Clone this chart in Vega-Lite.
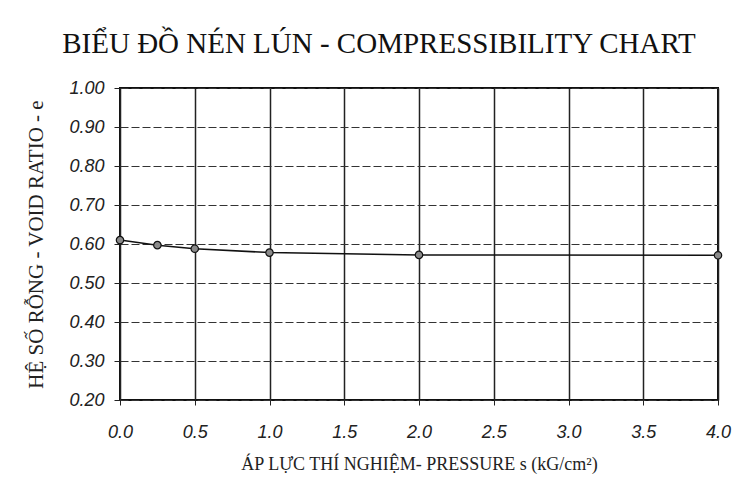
{
  "$schema": "https://vega.github.io/schema/vega-lite/v6.json",
  "autosize": {"type": "none"},
  "width": 598,
  "height": 312,
  "padding": {"left": 120, "top": 88, "right": 29, "bottom": 84},
  "background": "white",
  "title": {
    "text": "BIỂU ĐỒ NÉN LÚN - COMPRESSIBILITY CHART",
    "font": "Liberation Serif",
    "fontSize": 29,
    "fontWeight": "normal",
    "color": "#111",
    "anchor": "middle",
    "dx": -40,
    "offset": 20
  },
  "data": {
    "values": [
      {"pressure": 0.0, "e": 0.610},
      {"pressure": 0.25, "e": 0.597},
      {"pressure": 0.5, "e": 0.588},
      {"pressure": 1.0, "e": 0.578},
      {"pressure": 2.0, "e": 0.572},
      {"pressure": 4.0, "e": 0.571}
    ]
  },
  "config": {
    "view": {"stroke": "#111", "strokeWidth": 2}
  },
  "encoding": {
    "x": {
      "field": "pressure",
      "type": "quantitative",
      "scale": {"domain": [0, 4], "nice": false, "zero": false},
      "axis": {
        "title": "ÁP LỰC THÍ NGHIỆM- PRESSURE s (kG/cm²)",
        "titleFont": "Liberation Serif",
        "titleFontSize": 18,
        "titleFontWeight": "normal",
        "titleColor": "#222",
        "titlePadding": 14,
        "values": [0, 0.5, 1, 1.5, 2, 2.5, 3, 3.5, 4],
        "format": ".1f",
        "labelFont": "Liberation Sans",
        "labelFontStyle": "italic",
        "labelFontSize": 18,
        "labelColor": "#222",
        "labelPadding": 18,
        "labelFlush": false,
        "domain": false,
        "tickColor": "#222",
        "tickSize": 5,
        "grid": true,
        "gridColor": "#222",
        "gridWidth": 1.5
      }
    },
    "y": {
      "field": "e",
      "type": "quantitative",
      "scale": {"domain": [0.2, 1.0], "nice": false, "zero": false},
      "axis": {
        "title": "HỆ SỐ RỖNG - VOID RATIO - e",
        "titleFont": "Liberation Serif",
        "titleFontSize": 21,
        "titleFontWeight": "normal",
        "titleColor": "#222",
        "titlePadding": 22,
        "values": [0.2, 0.3, 0.4, 0.5, 0.6, 0.7, 0.8, 0.9, 1.0],
        "format": ".2f",
        "labelFont": "Liberation Sans",
        "labelFontStyle": "italic",
        "labelFontSize": 18,
        "labelColor": "#222",
        "labelPadding": 10,
        "labelFlush": false,
        "domain": false,
        "tickColor": "#222",
        "tickSize": 6,
        "grid": true,
        "gridColor": "#333",
        "gridWidth": 1,
        "gridDash": [8, 3]
      }
    }
  },
  "layer": [
    {
      "mark": {"type": "line", "color": "#111", "strokeWidth": 1.5}
    },
    {
      "mark": {"type": "point", "filled": true, "fill": "#8a8a8a", "stroke": "#111", "strokeWidth": 1.2, "size": 55, "opacity": 1}
    }
  ]
}
